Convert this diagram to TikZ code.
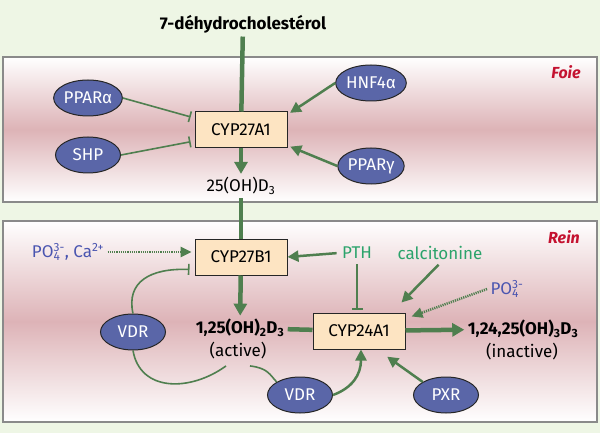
\documentclass[tikz,border=0pt]{standalone}
\usepackage{fontspec}
\setmainfont{Fira Sans}
\usetikzlibrary{arrows.meta,shapes.geometric}

\definecolor{fond}{HTML}{EEF6E5}
\definecolor{rose}{HTML}{DDB3B7}
\definecolor{cadre}{HTML}{8A8A8A}
\definecolor{vert}{HTML}{4F7F4F}
\definecolor{bleuel}{HTML}{5A66A8}
\definecolor{peche}{HTML}{FDE4C2}
\definecolor{bleutxt}{HTML}{4A55B0}
\definecolor{verttxt}{HTML}{2BA36B}
\definecolor{rouge}{HTML}{C41230}

\newcommand{\ionsup}[2]{\rlap{\textsubscript{#2}}\textsuperscript{#1}}

\begin{document}
\begin{tikzpicture}[x=1pt,y=-1pt,
					font=\fontsize{17}{19}\selectfont,
					facteur/.style={ellipse,draw=black!85,fill=bleuel,text=white,
						line width=1pt,minimum width=65pt,minimum height=36pt,inner sep=0pt},
					enzyme/.style={rectangle,draw=black!85,fill=peche,line width=1pt,
						minimum width=92pt,minimum height=36pt,inner sep=0pt},
					organe/.style={text=rouge,font=\fontsize{16}{18}\selectfont\bfseries\itshape},
					voie/.style={draw=vert,line width=4.5pt},
					voiefl/.style={voie,-{Triangle[length=12pt,width=13pt]}},
					active/.style={draw=vert,line width=2.5pt,-{Triangle[length=11pt,width=11pt]}},
					inhib/.style={draw=vert,line width=1.6pt,-{Bar[width=11pt,line width=1.6pt]}},
					lien/.style={draw=vert,line width=1.6pt},
					pointille/.style={draw=vert,line width=2.5pt,dash pattern=on 1.2pt off 1pt,
						-{Triangle[length=11pt,width=10pt]}}]

  % fond et compartiments
  \fill[fond] (0,0) rectangle (600,433);
  \shade[top color=white,bottom color=white,middle color=rose] (3,57) rectangle (597,202);
  \draw[cadre,line width=1.2pt] (3,57) rectangle (597,202);
  \shade[top color=white,bottom color=white,middle color=rose] (3,221) rectangle (597,422);
  \draw[cadre,line width=1.2pt] (3,221) rectangle (597,422);

  % Foie
  \node (chol) at (243,24) {\fontsize{17}{19}\selectfont\bfseries 7-déhydrocholestérol};
  \node[organe] (foie) at (566,72) {Foie};
  \node[enzyme] (cypA) at (241,130) {CYP27A1};
  \node[facteur] (ppara) at (88,98) {PPARα};
  \node[facteur] (shp) at (88,155) {SHP};
  \node[facteur] (hnf) at (371,83) {HNF4α};
  \node[facteur] (pparg) at (371,166) {PPARγ};
  \node (ohd) at (241,186) {25(OH)D\textsubscript{3}};

  % Rein
  \node[organe] (rein) at (564,237) {Rein};
  \node[enzyme] (cypB) at (241,257) {CYP27B1};
  \node[text=bleutxt] (ions) at (68,252) {PO\ionsup{3-}{4}, Ca\textsuperscript{2+}};
  \node[text=verttxt] (pth) at (357,253) {PTH};
  \node[text=verttxt] (calci) at (440,253) {calcitonine};
  \node[text=bleutxt] (phos) at (507,289) {PO\ionsup{3-}{4}};
  \node (dtrois) at (240,328) {\bfseries 1,25(OH)\textsubscript{2}D\textsubscript{3}};
  \node (actif) at (238,351) {(active)};
  \node[enzyme] (cypC) at (359,331) {CYP24A1};
  \node (inact) at (523,329) {\bfseries 1,24,25(OH)\textsubscript{3}D\textsubscript{3}};
  \node (inactif) at (522,352) {(inactive)};
  \node[facteur] (vdrA) at (133,332) {VDR};
  \node[facteur] (vdrB) at (300,395) {VDR};
  \node[facteur] (pxr) at (446,395) {PXR};

  % voie principale
  \draw[voie] (chol) -- (cypA);
  \draw[voiefl] (cypA) -- (ohd);
  \draw[voie] (ohd) -- (cypB);
  \draw[voiefl] (cypB) -- (dtrois);
  \draw[voie] (dtrois) -- (cypC);
  \draw[voiefl] (cypC) -- (inact);

  % regulations hepatiques
  \draw[inhib,shorten >=4pt] (ppara.east) -- ([yshift=12pt]cypA.west);
  \draw[inhib,shorten >=4pt] (shp.east) -- ([yshift=-11pt]cypA.west);
  \draw[active,shorten >=3pt] (hnf.west) -- ([yshift=-3pt]cypA.north east);
  \draw[active,shorten >=3pt] (pparg.west) -- ([yshift=3pt]cypA.south east);

  % regulations renales
  \draw[pointille,shorten >=3pt] (ions) -- (ions -| cypB.west);
  \draw[active,shorten <=2pt] (pth.west) -- (cypB.east);
  \draw[inhib,shorten <=2pt,shorten >=3pt] (pth.south) -- (pth.south |- cypC.north);
  \draw[active,shorten <=2pt] (calci.south) -- ([shift={(-4pt,10pt)}]cypC.north east);
  \draw[pointille] (phos.west) -- ([shift={(6pt,-4pt)}]cypC.north east);
  \draw[inhib] (vdrA.north) .. controls (126,282) and (150,268) .. ([shift={(-5pt,6pt)}]cypB.south west);
  \draw[lien] (vdrA.south) .. controls (140,392) and (190,392) .. ([shift={(-12pt,-3pt)}]actif.south);
  \draw[lien] ([shift={(12pt,-3pt)}]actif.south) .. controls (268,368) and (270,375) .. (vdrB.north west);
  \draw[active] (vdrB.east) .. controls (352,388) and (361,375) .. ([xshift=2pt]cypC.south);
  \draw[active,shorten >=2pt] (pxr.north west) -- ([shift={(-20pt,-6pt)}]cypC.south east);
\end{tikzpicture}
\end{document}
